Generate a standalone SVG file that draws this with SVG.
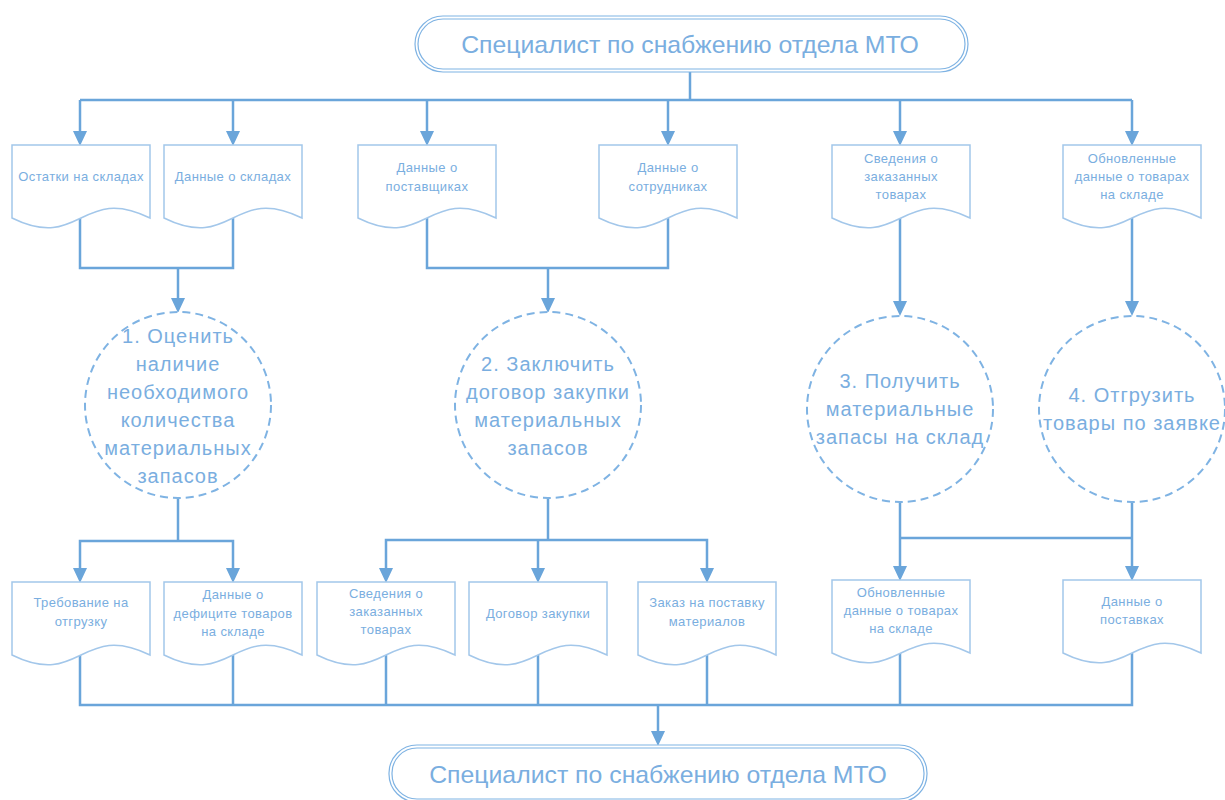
<svg xmlns="http://www.w3.org/2000/svg" width="1225" height="800" viewBox="0 0 1225 800">
  <style>
    .bg { fill: #ffffff; }
    .wire { fill: none; stroke: #6aa5da; stroke-width: 2.5; }
    .head { fill: #6aa5da; }
    .doc { fill: #ffffff; stroke: #a3c7ea; stroke-width: 1.5; }
    .proc { fill: #ffffff; stroke: #7fb3e3; stroke-width: 2; stroke-dasharray: 8 5; }
    .term { fill: #ffffff; stroke: #7fb3e3; stroke-width: 1.2; }
    .term-in { fill: none; stroke: #7fb3e3; stroke-width: 1.2; }
    text { font-family: "Liberation Sans", Arial, sans-serif; fill: #7aaee0; text-anchor: middle; }
    .t-term { font-size: 24.8px; }
    .t-doc { font-size: 13px; letter-spacing: 0.4px; }
    .t-proc { font-size: 20px; letter-spacing: 1px; }
  </style>
  <defs>
    <!-- document symbol: 138 wide, flat top, wavy bottom -->
    <path id="docShape" d="M-69,0 H69 V73 C0,39 0,107 -69,73 Z"/>
    <!-- downward arrowhead, tip at (0,0) -->
    <path id="head" d="M-7,-15 H7 L0,0 Z"/>
  </defs>

  <rect class="bg" x="0" y="0" width="1225" height="800"/>

  <!-- connectors -->
  <g id="connectors">
    <!-- top fan-out -->
    <path class="wire" d="M690,72 V100"/>
    <path class="wire" d="M80,100 H1132"/>
    <path class="wire" d="M80,100 V131"/>
    <path class="wire" d="M233,100 V131"/>
    <path class="wire" d="M427,100 V131"/>
    <path class="wire" d="M668,100 V131"/>
    <path class="wire" d="M900,100 V131"/>
    <path class="wire" d="M1132,100 V131"/>
    <!-- inputs to process 1 -->
    <path class="wire" d="M80,200 V268 H233 V200"/>
    <path class="wire" d="M178,268 V298"/>
    <!-- inputs to process 2 -->
    <path class="wire" d="M427,200 V268 H668 V200"/>
    <path class="wire" d="M548,268 V298"/>
    <!-- inputs to processes 3 and 4 -->
    <path class="wire" d="M900,200 V301"/>
    <path class="wire" d="M1132,200 V301"/>
    <!-- outputs of process 1 -->
    <path class="wire" d="M178,498 V541"/>
    <path class="wire" d="M80,568 V541 H233 V568"/>
    <!-- outputs of process 2 -->
    <path class="wire" d="M548,498 V540"/>
    <path class="wire" d="M386,568 V540 H707 V568"/>
    <path class="wire" d="M538,540 V568"/>
    <!-- outputs of processes 3 and 4 -->
    <path class="wire" d="M900,502 V566"/>
    <path class="wire" d="M1132,502 V566"/>
    <path class="wire" d="M900,538 H1132"/>
    <!-- collection bus to bottom -->
    <path class="wire" d="M80,640 V705 H1132 V640"/>
    <path class="wire" d="M233,640 V705"/>
    <path class="wire" d="M386,640 V705"/>
    <path class="wire" d="M538,640 V705"/>
    <path class="wire" d="M707,640 V705"/>
    <path class="wire" d="M900,640 V705"/>
    <path class="wire" d="M658,705 V731"/>
    <!-- arrowheads -->
    <g class="head">
      <use href="#head" x="80" y="146"/>
      <use href="#head" x="233" y="146"/>
      <use href="#head" x="427" y="146"/>
      <use href="#head" x="668" y="146"/>
      <use href="#head" x="900" y="146"/>
      <use href="#head" x="1132" y="146"/>
      <use href="#head" x="178" y="313"/>
      <use href="#head" x="548" y="313"/>
      <use href="#head" x="900" y="316"/>
      <use href="#head" x="1132" y="316"/>
      <use href="#head" x="80" y="583"/>
      <use href="#head" x="233" y="583"/>
      <use href="#head" x="386" y="583"/>
      <use href="#head" x="538" y="583"/>
      <use href="#head" x="707" y="583"/>
      <use href="#head" x="900" y="581"/>
      <use href="#head" x="1132" y="581"/>
      <use href="#head" x="658" y="746"/>
    </g>
  </g>

  <!-- terminator: top -->
  <g id="actor-top">
    <rect class="term" x="415" y="16" width="553" height="56" rx="28"/>
    <rect class="term-in" x="418" y="19" width="547" height="50" rx="25"/>
    <text class="t-term" x="690" y="53">Специалист по снабжению отдела МТО</text>
  </g>

  <!-- input documents -->
  <g id="doc-ostatki" transform="translate(81,145)">
    <use href="#docShape" class="doc"/>
    <text class="t-doc" x="0" y="36">Остатки на складах</text>
  </g>
  <g id="doc-sklady" transform="translate(233,145)">
    <use href="#docShape" class="doc"/>
    <text class="t-doc" x="0" y="36">Данные о складах</text>
  </g>
  <g id="doc-postavshchiki" transform="translate(427,145)">
    <use href="#docShape" class="doc"/>
    <text class="t-doc" x="0" y="27">Данные о</text>
    <text class="t-doc" x="0" y="46">поставщиках</text>
  </g>
  <g id="doc-sotrudniki" transform="translate(668,145)">
    <use href="#docShape" class="doc"/>
    <text class="t-doc" x="0" y="27">Данные о</text>
    <text class="t-doc" x="0" y="46">сотрудниках</text>
  </g>
  <g id="doc-zakazannye-in" transform="translate(901,145)">
    <use href="#docShape" class="doc"/>
    <text class="t-doc" x="0" y="18">Сведения о</text>
    <text class="t-doc" x="0" y="36">заказанных</text>
    <text class="t-doc" x="0" y="54">товарах</text>
  </g>
  <g id="doc-obnovlennye-in" transform="translate(1132,145)">
    <use href="#docShape" class="doc"/>
    <text class="t-doc" x="0" y="18">Обновленные</text>
    <text class="t-doc" x="0" y="36">данные о товарах</text>
    <text class="t-doc" x="0" y="54">на складе</text>
  </g>

  <!-- processes -->
  <g id="proc-1">
    <circle class="proc" cx="178" cy="405" r="93"/>
    <text class="t-proc" x="178" y="343">1. Оценить</text>
    <text class="t-proc" x="178" y="371">наличие</text>
    <text class="t-proc" x="178" y="399">необходимого</text>
    <text class="t-proc" x="178" y="427">количества</text>
    <text class="t-proc" x="178" y="455">материальных</text>
    <text class="t-proc" x="178" y="483">запасов</text>
  </g>
  <g id="proc-2">
    <circle class="proc" cx="548" cy="405" r="93"/>
    <text class="t-proc" x="548" y="371">2. Заключить</text>
    <text class="t-proc" x="548" y="399">договор закупки</text>
    <text class="t-proc" x="548" y="427">материальных</text>
    <text class="t-proc" x="548" y="455">запасов</text>
  </g>
  <g id="proc-3">
    <circle class="proc" cx="900" cy="409" r="93"/>
    <text class="t-proc" x="900" y="388">3. Получить</text>
    <text class="t-proc" x="900" y="416">материальные</text>
    <text class="t-proc" x="900" y="444">запасы на склад</text>
  </g>
  <g id="proc-4">
    <circle class="proc" cx="1132" cy="409" r="93"/>
    <text class="t-proc" x="1132" y="402">4. Отгрузить</text>
    <text class="t-proc" x="1132" y="430">товары по заявке</text>
  </g>

  <!-- output documents -->
  <g id="doc-trebovanie" transform="translate(81,582)">
    <use href="#docShape" class="doc"/>
    <text class="t-doc" x="0" y="25">Требование на</text>
    <text class="t-doc" x="0" y="44">отгрузку</text>
  </g>
  <g id="doc-deficit" transform="translate(233,582)">
    <use href="#docShape" class="doc"/>
    <text class="t-doc" x="0" y="17">Данные о</text>
    <text class="t-doc" x="0" y="36">дефиците товаров</text>
    <text class="t-doc" x="0" y="54">на складе</text>
  </g>
  <g id="doc-zakazannye-out" transform="translate(386,582)">
    <use href="#docShape" class="doc"/>
    <text class="t-doc" x="0" y="16">Сведения о</text>
    <text class="t-doc" x="0" y="34">заказанных</text>
    <text class="t-doc" x="0" y="52">товарах</text>
  </g>
  <g id="doc-dogovor" transform="translate(538,582)">
    <use href="#docShape" class="doc"/>
    <text class="t-doc" x="0" y="36">Договор закупки</text>
  </g>
  <g id="doc-zakaz" transform="translate(707,582)">
    <use href="#docShape" class="doc"/>
    <text class="t-doc" x="0" y="25">Заказ на поставку</text>
    <text class="t-doc" x="0" y="44">материалов</text>
  </g>
  <g id="doc-obnovlennye-out" transform="translate(901,580)">
    <use href="#docShape" class="doc"/>
    <text class="t-doc" x="0" y="17">Обновленные</text>
    <text class="t-doc" x="0" y="35">данные о товарах</text>
    <text class="t-doc" x="0" y="53">на складе</text>
  </g>
  <g id="doc-postavki" transform="translate(1132,580)">
    <use href="#docShape" class="doc"/>
    <text class="t-doc" x="0" y="26">Данные о</text>
    <text class="t-doc" x="0" y="44">поставках</text>
  </g>

  <!-- terminator: bottom -->
  <g id="actor-bottom">
    <rect class="term" x="389" y="745" width="538" height="57" rx="28"/>
    <rect class="term-in" x="392" y="748" width="532" height="51" rx="25"/>
    <text class="t-term" x="658" y="783">Специалист по снабжению отдела МТО</text>
  </g>
</svg>
